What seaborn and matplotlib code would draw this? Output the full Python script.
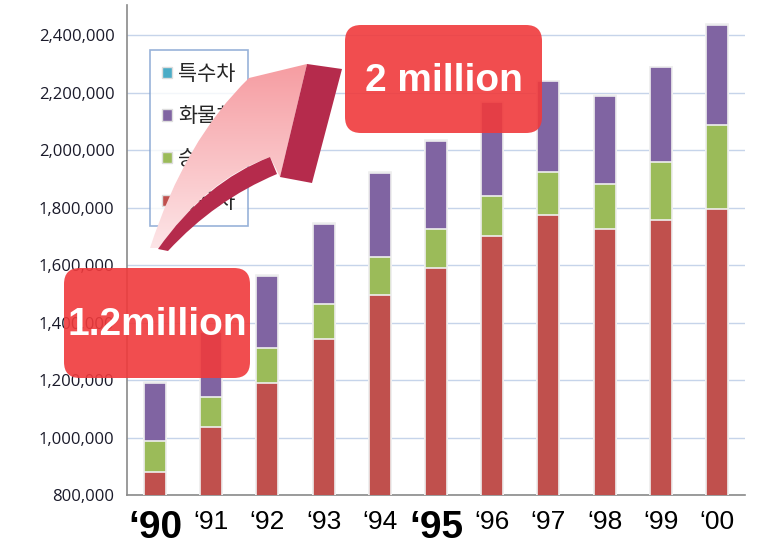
import numpy as np
import pandas as pd
import matplotlib
matplotlib.use("Agg")
import matplotlib.pyplot as plt
import seaborn as sns
from matplotlib.patches import Patch, FancyBboxPatch, PathPatch, Polygon
from matplotlib.path import Path
from matplotlib.colors import LinearSegmentedColormap
from matplotlib.ticker import FuncFormatter, FixedLocator

years = ["‘90", "‘91", "‘92", "‘93", "‘94", "‘95", "‘96", "‘97", "‘98", "‘99", "‘00"]
passenger = [880000, 1037000, 1190000, 1343000, 1497000, 1591000, 1702000, 1776000, 1727000, 1758000, 1796000]
van = [108000, 104000, 122000, 122000, 132000, 136000, 140000, 149000, 156000, 202000, 290000]
truck = [202000, 227000, 251000, 279000, 293000, 306000, 324000, 314000, 307000, 328000, 351000]
special = [3000, 3000, 3000, 3000, 3000, 3000, 3000, 3000, 3000, 3000, 3000]
series_names = ["승용차", "승합차", "화물차", "특수차"]
colors = ["#C0504D", "#9BBB59", "#8064A2", "#4BACC6"]
bold_years = ["‘90", "‘95"]

df = pd.DataFrame({"year": years, "승용차": passenger, "승합차": van,
                   "화물차": truck, "특수차": special})
cum = df[series_names].cumsum(axis=1)

sns.set_style("white")
plt.rcParams['font.family'] = ['Noto Sans CJK KR', 'DejaVu Sans']

W, H = 757, 546
fig = plt.figure(figsize=(W / 100, H / 100), dpi=100)
ax = fig.add_axes([127 / W, 1 - 495 / H, 618 / W, 490 / H])

# stacked bars: draw tallest cumulative first
for name, col in zip(reversed(series_names), reversed(colors)):
    sns.barplot(x=df["year"], y=cum[name], color=col, width=0.39,
                edgecolor="#efefef", linewidth=1.2, saturation=1, ax=ax, zorder=3)

ax.set_ylim(800000, 2505000)
ax.set_xlim(-0.5, len(years) - 0.5)
ax.set_xlabel("")
ax.set_ylabel("")
ax.yaxis.set_major_locator(FixedLocator(np.arange(800000, 2400001, 200000)))
ax.yaxis.set_major_formatter(FuncFormatter(lambda v, p: f"{int(v):,}"))
ax.grid(axis="y", color="#c6d4ea", linewidth=1, zorder=0)
ax.set_axisbelow(True)

for s in ["top", "right"]:
    ax.spines[s].set_visible(False)
for s in ["left", "bottom"]:
    ax.spines[s].set_color("#8a8a8a")
    ax.spines[s].set_linewidth(1.2)

ax.tick_params(axis="y", length=6, color="#8a8a8a", labelsize=12, pad=3,
               labelcolor="#1a1a2a")
for t in ax.get_yticklabels():
    t.set_family(["Open Sans", "DejaVu Sans"])
ax.set_xticks(range(len(years)))
ax.set_xticks(np.arange(-0.5, len(years), 1), minor=True)
ax.tick_params(axis="x", which="major", length=0, pad=11)
ax.tick_params(axis="x", which="minor", length=6, color="#8a8a8a")
ax.set_xticklabels(years)
for t in ax.get_xticklabels():
    t.set_family(["Liberation Sans Narrow", "Liberation Sans", "DejaVu Sans"])
    if t.get_text() in bold_years:
        t.set_fontsize(28)
        t.set_fontweight("bold")
    else:
        t.set_fontsize(19)
    t.set_color("black")

# legend
handles = [Patch(facecolor=c, edgecolor="#dddddd") for c in reversed(colors)]
leg = ax.legend(handles, list(reversed(series_names)), loc="upper left",
                bbox_to_anchor=(0.037, 0.908), fontsize=15, frameon=True,
                fancybox=False, handlelength=0.45, handleheight=0.45,
                handletextpad=0.3, labelspacing=1.0, borderpad=0.6,
                borderaxespad=0)
leg.get_frame().set_edgecolor("#7f9fcf")
leg.get_frame().set_linewidth(1.2)
leg.set_zorder(5)

# overlay in image pixel coordinates for the callout graphics
ov = fig.add_axes([0, 0, 1, 1], zorder=10)
ov.set_xlim(0, W)
ov.set_ylim(H, 0)
ov.axis("off")
ov.patch.set_alpha(0)

# curved 3D arrow
Q = Path.CURVE3
face_path = Path([(150, 248), (185, 140), (249, 78), (307, 64), (280, 177),
                  (270, 157), (205, 180), (160, 248), (150, 248)],
                 [Path.MOVETO, Q, Q, Path.LINETO, Path.LINETO,
                  Path.LINETO, Q, Q, Path.CLOSEPOLY])
face = PathPatch(face_path, facecolor="none", edgecolor="none")
ov.add_patch(face)
grad = np.linspace(0, 1, 256).reshape(-1, 1)
cmap = LinearSegmentedColormap.from_list("pinkgrad", ["#f69ba0", "#fde6e8"])
img = ov.imshow(grad, extent=(140, 320, 250, 60), cmap=cmap, aspect="auto",
                zorder=11)
img.set_clip_path(face)

tail_path = Path([(158, 249), (205, 182), (270, 157), (277, 174),
                  (215, 200), (168, 251), (158, 249)],
                 [Path.MOVETO, Q, Q, Path.LINETO, Q, Q, Path.CLOSEPOLY])
ov.add_patch(PathPatch(tail_path, facecolor="#b52b4c", edgecolor="none", zorder=12))
ov.add_patch(Polygon([(307, 64), (342, 69), (312, 183), (280, 177)],
                     closed=True, facecolor="#b52b4c", edgecolor="none", zorder=12))

# callout boxes
def callout(x0, y0, x1, y1, text):
    box = FancyBboxPatch((x0, y0), x1 - x0, y1 - y0,
                         boxstyle="round,pad=0,rounding_size=16",
                         facecolor="#f03a3c", edgecolor="none", alpha=0.9,
                         zorder=13)
    ov.add_patch(box)
    ov.text((x0 + x1) / 2, (y0 + y1) / 2 + 2, text, ha="center", va="center",
            color="white", fontsize=28, fontweight="bold",
            family=["Liberation Sans", "DejaVu Sans"], zorder=14)

callout(345, 25, 542, 133, "2 million")
callout(64, 268, 250, 378, "1.2million")

fig.savefig("out.png", dpi=100)
